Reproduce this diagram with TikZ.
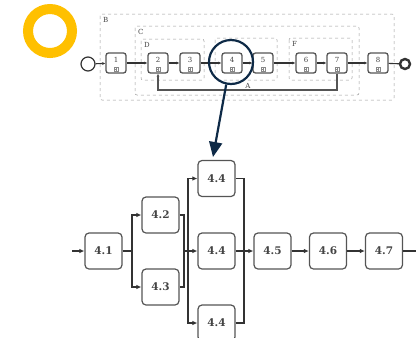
\documentclass[tikz,border=0pt]{standalone}
\usepackage{fontspec}
\setmainfont{DejaVu Serif}
\usetikzlibrary{arrows.meta}
\definecolor{ringc}{HTML}{FFC000}
\definecolor{navyc}{HTML}{0E2A47}
\definecolor{linec}{HTML}{333333}
\definecolor{boxc}{HTML}{555555}
\definecolor{txtc}{HTML}{444444}
\definecolor{dashc}{HTML}{9A9A9A}
\definecolor{markc}{HTML}{888888}
\begin{document}
\begin{tikzpicture}[x=1pt,y=-1pt,
  task/.style={draw=boxc, line width=1.3pt, rounded corners=2.5pt, minimum width=20pt, minimum height=20pt, inner sep=0pt, fill=white},
  tnum/.style={font=\fontsize{7}{8}\selectfont, text=txtc, inner sep=0pt},
  cont/.style={draw=dashc, dashed, line width=0.5pt, rounded corners=2pt},
  clabel/.style={font=\fontsize{7}{8}\selectfont, text=txtc, inner sep=0pt, anchor=north west},
  flow/.style={draw=linec, line width=1.1pt},
  sarr/.style={-{Latex[length=3pt,width=3pt]}},
  big/.style={draw=boxc, line width=1.2pt, rounded corners=4pt, minimum width=37pt, minimum height=36pt, inner sep=0pt, fill=white, font=\bfseries\fontsize{10.5}{12}\selectfont, text=txtc},
  conn/.style={draw=linec, line width=1.6pt},
  arr/.style={-{Latex[length=5pt,width=4.5pt]}}
]
\useasboundingbox (0,0) rectangle (416,338);
% yellow ring
\draw[ringc, line width=10pt] (50,31) circle[radius=22];
% containers
\draw[cont] (100,14) rectangle (394,100);
\draw[cont] (135,26) rectangle (359,95);
\draw[cont] (141,39) rectangle (204,80);
\draw[cont] (215,38) rectangle (277,80);
\draw[cont] (289,38) rectangle (352,80);
\node[clabel] (lB) at (103,17) {B};
\node[clabel] (lC) at (138,29) {C};
\node[clabel] (lD) at (144,42) {D};
\node[clabel] (lF) at (292,41) {F};
% start / end
\node[draw=linec, circle, line width=1.2pt, minimum size=14pt, inner sep=0pt] (start) at (88,64) {};
\node[draw=linec, circle, line width=2.4pt, minimum size=10pt, inner sep=0pt] (stop) at (405,64) {};
% tasks
\foreach \n/\x in {1/116,2/158,3/190,4/232,5/263,6/306,7/337,8/378}{
  \node[task] (t\n) at (\x,63) {};
  \node[tnum] (n\n) at (\x,59.5) {\n};
  \draw[markc, line width=0.4pt] (\x-2,67.5) rectangle (\x+2,71.5);
  \draw[markc, line width=0.4pt] (\x-1.3,69.5) -- (\x+1.3,69.5) (\x,68.2) -- (\x,70.8);
}
\draw[flow,sarr] (start) -- (t1);
\draw[flow,sarr] (t1) -- (t2);
\draw[flow,sarr] (t2) -- (t3);
\draw[flow,sarr] (t3) -- (t4);
\draw[flow,sarr] (t4) -- (t5);
\draw[flow,sarr] (t5) -- (t6);
\draw[flow,sarr] (t6) -- (t7);
\draw[flow,sarr] (t7) -- (t8);
\draw[flow] (t8) -- (stop);
% loop A
\coordinate (la) at (337,90);
\coordinate (lb) at (158,90);
\draw[flow,sarr, draw=boxc] (t7.south) -- (la) -- (lb) -- (t2.south);
\node[tnum] (lA) at (248,86) {A};
% magnifier
\node[draw=navyc, circle, line width=2.2pt, minimum size=44pt, inner sep=0pt] (mag) at (231,62) {};
\coordinate (tip) at (213,157);
\draw[navyc, line width=2.2pt, -{Triangle[length=15pt,width=13pt]}] (mag.-102) -- (tip);
% bottom detail
\node[big] (b41) at (103.5,251) {4.1};
\node[big] (b42) at (160.5,215) {4.2};
\node[big] (b43) at (160.5,287) {4.3};
\node[big] (b44a) at (216.5,178.5) {4.4};
\node[big] (b44b) at (216.5,251) {4.4};
\node[big] (b44c) at (216.5,323) {4.4};
\node[big] (b45) at (272.5,251) {4.5};
\node[big] (b46) at (328,251) {4.6};
\node[big] (b47) at (384,251) {4.7};
\coordinate (in) at (72,251);
\coordinate (out) at (416,251);
\coordinate (s1) at (132,251);
\coordinate (m1) at (184,251);
\coordinate (s2) at (188,251);
\coordinate (m2) at (244,251);
\draw[conn,arr] (in) -- (b41.west);
\draw[conn] (b41.east) -- (s1);
\draw[conn,arr] (s1) |- (b42.west);
\draw[conn,arr] (s1) |- (b43.west);
\draw[conn] (b42.east) -| (m1);
\draw[conn] (b43.east) -| (m1);
\draw[conn] (m1) -- (s2);
\draw[conn,arr] (s2) |- (b44a.west);
\draw[conn,arr] (s2) -- (b44b.west);
\draw[conn,arr] (s2) |- (b44c.west);
\draw[conn] (b44a.east) -| (m2);
\draw[conn] (b44c.east) -| (m2);
\draw[conn] (b44b.east) -- (m2);
\draw[conn,arr] (m2) -- (b45.west);
\draw[conn,arr] (b45) -- (b46);
\draw[conn,arr] (b46) -- (b47);
\draw[conn] (b47.east) -- (out);
\end{tikzpicture}
\end{document}
